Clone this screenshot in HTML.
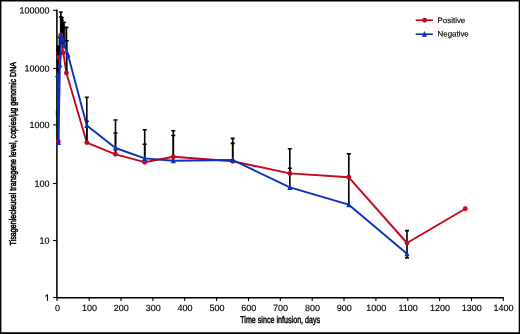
<!DOCTYPE html>
<html><head><meta charset="utf-8"><style>
html,body{margin:0;padding:0;background:#fff;}
body{width:520px;height:334px;overflow:hidden;}
svg{display:block;will-change:transform;}
text{font-family:"Liberation Sans",sans-serif;fill:#000;stroke:#000;stroke-width:0.15px;}
</style></head><body>
<svg width="520" height="334" viewBox="0 0 520 334">
<rect x="0" y="0" width="520" height="334" fill="#fff"/>
<path d="M0 0H520V334H0Z M1.4 1.4V332.3H518.7V1.4Z" fill="#000" fill-rule="evenodd"/>

<g stroke="#000" stroke-width="1.55" fill="none">
<path d="M56.9 9.6 V297.75 H503.8"/>
</g><g stroke="#000" stroke-width="1.1" fill="none">
<path d="M53.1 297.55 H57.0"/>
<path d="M53.1 240.50 H57.0"/>
<path d="M53.1 183.50 H57.0"/>
<path d="M53.1 124.90 H57.0"/>
<path d="M53.1 68.45 H57.0"/>
<path d="M53.1 10.35 H57.0"/>
<path d="M57.0 297.75 V301.1"/>
<path d="M89.2 297.75 V301.1"/>
<path d="M121.0 297.75 V301.1"/>
<path d="M152.9 297.75 V301.1"/>
<path d="M184.7 297.75 V301.1"/>
<path d="M216.6 297.75 V301.1"/>
<path d="M248.5 297.75 V301.1"/>
<path d="M280.3 297.75 V301.1"/>
<path d="M312.2 297.75 V301.1"/>
<path d="M344.0 297.75 V301.1"/>
<path d="M375.9 297.75 V301.1"/>
<path d="M407.8 297.75 V301.1"/>
<path d="M439.6 297.75 V301.1"/>
<path d="M471.5 297.75 V301.1"/>
<path d="M503.3 297.75 V301.1"/>
</g>
<g font-size="9">
<path d="M47.95 294.2 V300.75 H47.0 V295.75 C46.5 296.15 45.9 296.45 45.25 296.65 V295.8 C46.15 295.5 46.85 294.9 47.25 294.2 Z" fill="#000" stroke="#000" stroke-width="0.15"/>
<text x="49.6" y="243.70" transform="rotate(0.05 49.6 243.70)" text-anchor="end">10</text>
<text x="49.6" y="186.70" transform="rotate(0.05 49.6 186.70)" text-anchor="end">100</text>
<text x="49.6" y="128.10" transform="rotate(0.05 49.6 128.10)" text-anchor="end">1000</text>
<text x="49.6" y="71.65" transform="rotate(0.05 49.6 71.65)" text-anchor="end">10000</text>
<text x="49.6" y="13.55" transform="rotate(0.05 49.6 13.55)" text-anchor="end">100000</text>
<text x="57.6" y="311.1" transform="rotate(0.05 57.6 311.1)" text-anchor="middle">0</text>
<text x="89.5" y="311.1" transform="rotate(0.05 89.5 311.1)" text-anchor="middle">100</text>
<text x="121.3" y="311.1" transform="rotate(0.05 121.3 311.1)" text-anchor="middle">200</text>
<text x="153.2" y="311.1" transform="rotate(0.05 153.2 311.1)" text-anchor="middle">300</text>
<text x="185.0" y="311.1" transform="rotate(0.05 185.0 311.1)" text-anchor="middle">400</text>
<text x="216.9" y="311.1" transform="rotate(0.05 216.9 311.1)" text-anchor="middle">500</text>
<text x="248.8" y="311.1" transform="rotate(0.05 248.8 311.1)" text-anchor="middle">600</text>
<text x="280.6" y="311.1" transform="rotate(0.05 280.6 311.1)" text-anchor="middle">700</text>
<text x="312.5" y="311.1" transform="rotate(0.05 312.5 311.1)" text-anchor="middle">800</text>
<text x="344.3" y="311.1" transform="rotate(0.05 344.3 311.1)" text-anchor="middle">900</text>
<text x="376.2" y="311.1" transform="rotate(0.05 376.2 311.1)" text-anchor="middle">1000</text>
<text x="408.1" y="311.1" transform="rotate(0.05 408.1 311.1)" text-anchor="middle">1100</text>
<text x="439.9" y="311.1" transform="rotate(0.05 439.9 311.1)" text-anchor="middle">1200</text>
<text x="471.8" y="311.1" transform="rotate(0.05 471.8 311.1)" text-anchor="middle">1300</text>
<text x="503.6" y="311.1" transform="rotate(0.05 503.6 311.1)" text-anchor="middle">1400</text>
</g>
<g font-size="7.9"><text x="437.6" y="23.1" transform="rotate(0.05 437.6 23.1)">Positive</text><text x="437.6" y="36.6" transform="rotate(0.05 437.6 36.6)">Negative</text></g>
<g font-size="9.8">
<text x="240.2" y="322.9" transform="rotate(0.05 240.2 322.9)" textLength="80" lengthAdjust="spacingAndGlyphs" style="stroke-width:0.45px">Time since infusion, days</text>
<text transform="translate(15.8 245.4) rotate(-90)" textLength="183.5" lengthAdjust="spacingAndGlyphs" style="stroke-width:0.55px">Tisagenlecleucel transgene level, copies/µg genomic DNA</text>
</g>
<polyline points="58.3,141.6 58.7,57.4 60.8,35.2 63.4,53.0 66.4,73 86.8,142.6 115.5,154.3 144.7,162.2 173.3,156.7 232.7,161.3 289.9,173.4 348.8,177.3 407.0,243.0 465.3,208.8" fill="none" stroke="#c6081c" stroke-width="1.9" stroke-linejoin="round"/>
<g stroke="#000" stroke-width="1.6" fill="none">
<path d="M86.8 142.6 V97.3 M84.8 97.3 H88.8"/>
<path d="M86.8 142.6 V121.2 M84.8 121.2 H88.8"/>
<path d="M115.5 153.9 V120 M113.5 120 H117.5"/>
<path d="M115.5 153.9 V133 M113.5 133 H117.5"/>
<path d="M144.7 162.2 V129.8 M142.7 129.8 H146.7"/>
<path d="M144.7 162.2 V144.3 M142.7 144.3 H146.7"/>
<path d="M173.3 160.7 V130.8 M171.3 130.8 H175.3"/>
<path d="M173.3 160.7 V135.5 M171.3 135.5 H175.3"/>
<path d="M232.7 161.3 V138.4 M230.7 138.4 H234.7"/>
<path d="M232.7 161.3 V143.4 M230.7 143.4 H234.7"/>
<path d="M289.8 187.4 V148.7 M287.8 148.7 H291.8"/>
<path d="M289.8 173.4 V168.3 M287.8 168.3 H291.8"/>
<path d="M348.8 204.7 V153.9 M346.8 153.9 H350.8"/>
<path d="M407.0 257.9 V230.6 M405.0 230.6 H409.0"/>
<path d="M405.0 257.9 H409.0"/>
<path d="M60.85 36 V12.0" stroke-width="1.7"/><path d="M59.00 12.0 H62.70" stroke-width="1.5"/>
<path d="M60.85 36 V16.9" stroke-width="1.7"/><path d="M59.00 16.9 H62.70" stroke-width="1.5"/>
<path d="M61.9 36 V17.6" stroke-width="1.5"/><path d="M60.05 17.6 H63.75" stroke-width="1.5"/>
<path d="M62.0 38 V20.4" stroke-width="1.5"/><path d="M60.15 20.4 H63.85" stroke-width="1.5"/>
<path d="M64.1 44 V22.3" stroke-width="1.3"/><path d="M62.25 22.3 H65.95" stroke-width="1.5"/>
<path d="M65.2 48 V27.4" stroke-width="0.9"/><path d="M63.35 27.4 H67.05" stroke-width="1.5"/>
<path d="M66.6 73 V27.4" stroke-width="1.3"/><path d="M64.75 27.4 H68.45" stroke-width="1.5"/>
<path d="M66.9 73 V40.7" stroke-width="1.2"/><path d="M65.05 40.7 H68.75" stroke-width="1.5"/>
<path d="M59.25 57 V37.5" stroke-width="1.2"/><path d="M57.40 37.5 H61.10" stroke-width="1.5"/>
<path d="M57.8 75 V46.2" stroke-width="1.2"/><path d="M55.95 46.2 H59.65" stroke-width="1.5"/>
<path d="M57.8 75 V50.2" stroke-width="1.2"/><path d="M55.95 50.2 H59.65" stroke-width="1.5"/>
<path d="M57.6 142 V112" stroke-width="1.2"/><path d="M55.75 112 H59.45" stroke-width="1.5"/>
<path d="M57.6 142 V114.5" stroke-width="1.2"/><path d="M55.75 114.5 H59.45" stroke-width="1.5"/>
<path d="M59.9 17 H63.1 V22.3 H64.4 V44 H59.9 Z" fill="#000" stroke="none"/>
<path d="M57 46.2 H59.85 V56 H57 Z" fill="#000" stroke="none"/>
</g>
<circle cx="58.3" cy="141.6" r="2.45" fill="#c6081c"/>
<circle cx="58.7" cy="57.4" r="2.45" fill="#c6081c"/>
<circle cx="60.8" cy="35.2" r="2.45" fill="#c6081c"/>
<circle cx="63.4" cy="53.0" r="2.45" fill="#c6081c"/>
<circle cx="66.4" cy="73" r="2.45" fill="#c6081c"/>
<circle cx="86.8" cy="142.6" r="2.45" fill="#c6081c"/>
<circle cx="115.5" cy="154.3" r="2.45" fill="#c6081c"/>
<circle cx="144.7" cy="162.2" r="2.45" fill="#c6081c"/>
<circle cx="173.3" cy="156.7" r="2.45" fill="#c6081c"/>
<circle cx="232.7" cy="161.3" r="2.45" fill="#c6081c"/>
<circle cx="289.9" cy="173.4" r="2.45" fill="#c6081c"/>
<circle cx="348.8" cy="177.3" r="2.45" fill="#c6081c"/>
<circle cx="407.0" cy="243.0" r="2.45" fill="#c6081c"/>
<circle cx="465.3" cy="208.8" r="2.45" fill="#c6081c"/>
<polyline points="57.6,74.8 58.5,142.6 59.9,65 60.8,56.5 60.75,35.3 62.6,38.6 64.1,45.2 68,54.8 86.8,125.5 115.5,148.0 144.7,158.4 173.3,160.7 232.7,160.0 289.9,187.4 348.8,204.7 407.0,253.8" fill="none" stroke="#0a32b8" stroke-width="1.9" stroke-linejoin="round"/>
<path d="M57.6 71.7 L60.15 77.3 H55.05 Z" fill="#0a32b8"/>
<path d="M58.5 139.5 L61.05 145.1 H55.95 Z" fill="#0a32b8"/>
<path d="M59.9 61.9 L62.45 67.5 H57.35 Z" fill="#0a32b8"/>
<path d="M60.75 32.2 L63.30 37.8 H58.20 Z" fill="#0a32b8"/>
<path d="M62.6 35.5 L65.15 41.1 H60.05 Z" fill="#0a32b8"/>
<path d="M64.1 42.1 L66.65 47.7 H61.55 Z" fill="#0a32b8"/>
<path d="M68 51.7 L70.55 57.3 H65.45 Z" fill="#0a32b8"/>
<path d="M86.8 122.4 L89.35 128.0 H84.25 Z" fill="#0a32b8"/>
<path d="M115.5 144.9 L118.05 150.5 H112.95 Z" fill="#0a32b8"/>
<path d="M144.7 155.3 L147.25 160.9 H142.15 Z" fill="#0a32b8"/>
<path d="M173.3 157.6 L175.85 163.2 H170.75 Z" fill="#0a32b8"/>
<path d="M232.7 156.9 L235.25 162.5 H230.15 Z" fill="#0a32b8"/>
<path d="M289.9 184.3 L292.45 189.9 H287.35 Z" fill="#0a32b8"/>
<path d="M348.8 201.6 L351.35 207.2 H346.25 Z" fill="#0a32b8"/>
<path d="M407.0 250.7 L409.55 256.3 H404.45 Z" fill="#0a32b8"/>
<path d="M415.7 20.2 H432.9" stroke="#c6081c" stroke-width="1.6"/><circle cx="424.6" cy="20.2" r="2.45" fill="#c6081c"/>
<path d="M415.7 34.2 H432.9" stroke="#0a32b8" stroke-width="1.6"/><path d="M424.4 31.1 L426.95 36.7 H421.85 Z" fill="#0a32b8"/>
</svg></body></html>
